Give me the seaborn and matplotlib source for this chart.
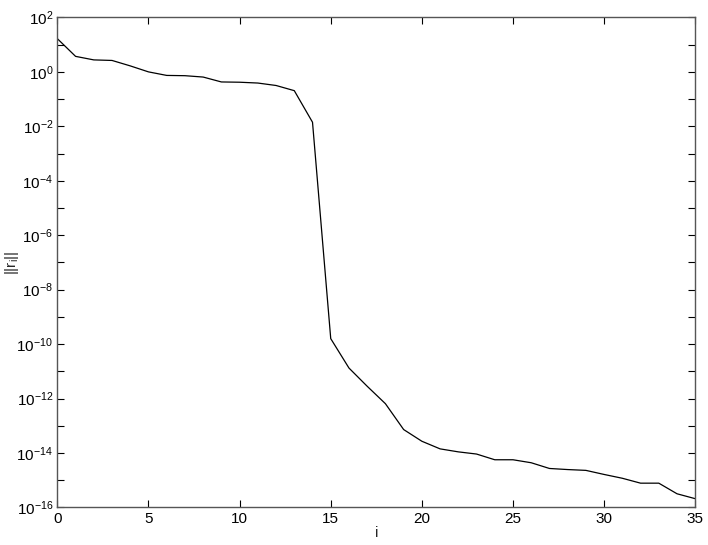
import numpy as np
import pandas as pd
import matplotlib
matplotlib.use("Agg")
import matplotlib.pyplot as plt
import seaborn as sns

# residual norm history (log10 values)
iterations = list(range(36))
log_residual = [1.22, 0.57, 0.44, 0.42, 0.22, 0.00, -0.13, -0.14, -0.19, -0.37,
                -0.38, -0.41, -0.50, -0.69, -1.85, -9.80, -10.88, -11.55, -12.19, -13.14,
                -13.57, -13.85, -13.96, -14.04, -14.25, -14.25, -14.36, -14.57, -14.61, -14.64,
                -14.79, -14.93, -15.11, -15.11, -15.50, -15.68]
x_ticks = [0, 5, 10, 15, 20, 25, 30, 35]
y_decades = list(range(-16, 3))

sns.set_style("ticks")
plt.rcParams['font.family'] = ['Liberation Sans', 'DejaVu Sans']
plt.rcParams['mathtext.fontset'] = 'custom'
plt.rcParams['mathtext.rm'] = 'Liberation Sans'
plt.rcParams['mathtext.it'] = 'Liberation Sans'
plt.rcParams['mathtext.default'] = 'regular'

df = pd.DataFrame({"i": iterations, "r": np.power(10.0, log_residual)})

fig = plt.figure(figsize=(7.08, 5.45), dpi=100)
ax = fig.add_axes([0.081, 0.069, 0.901, 0.899])
sns.lineplot(data=df, x="i", y="r", ax=ax, color="black", linewidth=0.9)
ax.set_yscale("log")
ax.set_xlim(0, 35)
ax.set_ylim(1e-16, 1e2)

ax.set_xticks(x_ticks)
ax.set_xticklabels([str(t) for t in x_ticks])
ax.set_yticks([10.0 ** d for d in y_decades])
ax.set_yticklabels([f"$10^{{{d}}}$" if d % 2 == 0 else "" for d in y_decades])
ax.yaxis.set_minor_locator(matplotlib.ticker.NullLocator())

ax.tick_params(direction="in", length=5, width=0.8, top=True, right=True,
               labelsize=11, colors="black", pad=3)
for s in ax.spines.values():
    s.set_color("#555555")
    s.set_linewidth(1.0)

ax.set_xlabel("i", fontsize=11)
ax.set_ylabel("$||r_i||$", fontsize=11)
ax.xaxis.set_label_coords(0.5, -0.038)
ax.yaxis.set_label_coords(-0.057, 0.5)

fig.savefig("out.png", dpi=100)
